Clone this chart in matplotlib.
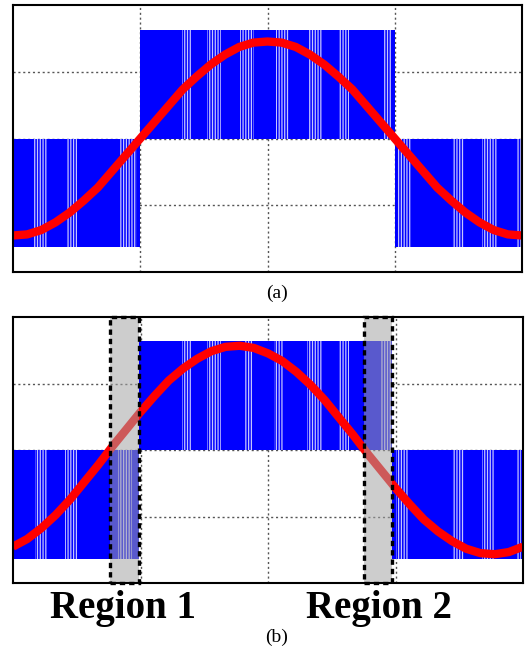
"""
Unipolar PWM voltage (blue) against the fundamental current (red).

(a) current in phase with the voltage blocks
(b) current leading the voltage -> two regions where the signs disagree
"""

import numpy as np
import matplotlib.pyplot as plt
from matplotlib.patches import Rectangle
from matplotlib.transforms import blended_transform_factory


# ── Data (time in fractions of one period) ──────────────────────────────────

# voltage blocks: start, end, level
A_SEG_START = [0.0, 0.25, 0.75]
A_SEG_END   = [0.25, 0.75, 1.0]
A_SEG_LEVEL = [-1.0, 1.0, -1.0]

B_SEG_START = [0.0, 0.247, 0.743]
B_SEG_END   = [0.247, 0.743, 1.0]
B_SEG_LEVEL = [-1.0, 1.0, -1.0]

# light switching stripes inside the blocks
A_STRIPE_START = [0.039, 0.104, 0.210, 0.332, 0.381, 0.446, 0.517, 0.582,
                  0.640, 0.729, 0.754, 0.862, 0.921, 0.988]
A_STRIPE_END   = [0.067, 0.126, 0.244, 0.350, 0.409, 0.473, 0.542, 0.607,
                  0.660, 0.743, 0.782, 0.886, 0.951, 0.998]

B_STRIPE_START = [0.043, 0.102, 0.206, 0.331, 0.380, 0.455, 0.512, 0.576,
                  0.639, 0.722, 0.751, 0.861, 0.920, 0.988]
B_STRIPE_END   = [0.067, 0.127, 0.233, 0.349, 0.408, 0.471, 0.531, 0.606,
                  0.659, 0.741, 0.776, 0.884, 0.943, 0.996]

# current samples (36 per period)
A_CUR = [-0.89, -0.88, -0.84, -0.77, -0.68, -0.57, -0.45, -0.30, -0.15, 0.00,
         0.15, 0.30, 0.45, 0.57, 0.68, 0.77, 0.84, 0.88, 0.89, 0.88,
         0.84, 0.77, 0.68, 0.57, 0.45, 0.30, 0.15, 0.00, -0.15, -0.30,
         -0.45, -0.57, -0.68, -0.77, -0.84, -0.88, -0.89]
B_CUR = [-0.89, -0.82, -0.72, -0.60, -0.46, -0.30, -0.14, 0.03, 0.19, 0.35,
         0.50, 0.64, 0.75, 0.84, 0.91, 0.95, 0.96, 0.94, 0.89, 0.82,
         0.72, 0.60, 0.46, 0.30, 0.14, -0.03, -0.19, -0.35, -0.50, -0.64,
         -0.75, -0.84, -0.91, -0.95, -0.96, -0.94, -0.89]

# shaded regions in (b)
REGION_START = [0.190, 0.688]
REGION_END   = [0.247, 0.743]
REGION_LABEL = ["Region 1", "Region 2"]

BLUE   = "#0000ff"
STRIPE = "#c4c4ff"
RED    = "#ff0000"
YLIM   = 1.225
SERIF  = ["Liberation Serif", "DejaVu Serif"]

plt.rcParams["hatch.linewidth"] = 0.9


def draw_panel(ax, seg_start, seg_end, seg_level, st_start, st_end, cur):
    seg_start = np.array(seg_start)
    seg_end = np.array(seg_end)
    ax.bar(seg_start, seg_level, width=seg_end - seg_start, align="edge",
           color=BLUE, linewidth=0, zorder=2)

    # stripes take the level of the block they sit in
    st_start = np.array(st_start)
    st_end = np.array(st_end)
    mid = 0.5 * (st_start + st_end)
    idx = np.searchsorted(seg_end, mid)
    lev = np.array(seg_level)[np.clip(idx, 0, len(seg_level) - 1)]
    ax.bar(st_start, lev, width=st_end - st_start, align="edge",
           color=BLUE, edgecolor=STRIPE, hatch="||||||", linewidth=0, zorder=2.1)

    t = np.linspace(0.0, 1.0, len(cur))
    ax.plot(t, cur, color=RED, lw=6, solid_joinstyle="round",
            solid_capstyle="butt", zorder=3)

    ax.set_xlim(0, 1)
    ax.set_ylim(-YLIM, YLIM)
    ax.set_xticks([0.25, 0.5, 0.75])
    ax.set_yticks([-YLIM / 2, 0, YLIM / 2])
    ax.tick_params(length=0, labelbottom=False, labelleft=False)
    ax.set_axisbelow(True)
    ax.grid(True, color="#555555", lw=1.0, linestyle=(0, (1.5, 2.0)))
    for sp in ax.spines.values():
        sp.set_linewidth(1.5)
        sp.set_color("black")
        sp.set_zorder(5)


def main():
    fig = plt.figure(figsize=(5.28, 6.52), dpi=100)

    ax_a = fig.add_axes([13 / 528, 1 - 272 / 652, 509 / 528, 267 / 652])
    draw_panel(ax_a, A_SEG_START, A_SEG_END, A_SEG_LEVEL,
               A_STRIPE_START, A_STRIPE_END, A_CUR)

    ax_b = fig.add_axes([13 / 528, 1 - 583 / 652, 510 / 528, 266 / 652])
    draw_panel(ax_b, B_SEG_START, B_SEG_END, B_SEG_LEVEL,
               B_STRIPE_START, B_STRIPE_END, B_CUR)

    # ── shaded regions + dotted boxes ───────────────────────────────────────
    trans = blended_transform_factory(ax_b.transData, ax_b.transAxes)
    for x0, x1 in zip(REGION_START, REGION_END):
        ax_b.axvspan(x0, x1, facecolor="#a4a4a4", alpha=0.55,
                     linewidth=0, zorder=4)
        ax_b.add_patch(Rectangle((x0, 0), x1 - x0, 1, transform=trans,
                                 fill=False, edgecolor="black", lw=2.4,
                                 linestyle=(0, (1.6, 1.2)),
                                 clip_on=False, zorder=6))

    # ── labels ─────────────────────────────────────────────────────────────
    for x_px, label in zip([123, 379], REGION_LABEL):
        fig.text(x_px / 528, 1 - 618 / 652, label, ha="center", va="baseline",
                 fontsize=28, fontweight="bold", family=SERIF)

    fig.text(277 / 528, 1 - 293 / 652, "(a)", ha="center", va="center",
             fontsize=14, family=SERIF)
    fig.text(277 / 528, 1 - 637 / 652, "(b)", ha="center", va="center",
             fontsize=14, family=SERIF)

    fig.savefig("out.png", dpi=100)
    plt.close(fig)


if __name__ == "__main__":
    main()
